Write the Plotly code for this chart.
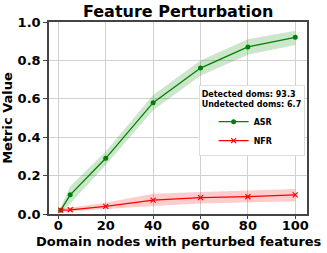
import plotly.graph_objects as go

x_vals = [1, 5, 20, 40, 60, 80, 100]
asr_mean = [0.02, 0.10, 0.29, 0.58, 0.76, 0.87, 0.92]
asr_upper = [0.035, 0.145, 0.325, 0.62, 0.80, 0.91, 0.955]
asr_lower = [0.005, 0.055, 0.255, 0.54, 0.72, 0.83, 0.88]
nfr_mean = [0.02, 0.022, 0.04, 0.072, 0.085, 0.09, 0.10]
nfr_upper = [0.03, 0.032, 0.058, 0.105, 0.115, 0.122, 0.13]
nfr_lower = [0.01, 0.012, 0.024, 0.042, 0.055, 0.06, 0.066]
x_ticks = [0, 20, 40, 60, 80, 100]
y_ticks = [0.0, 0.2, 0.4, 0.6, 0.8, 1.0]

FONT = "DejaVu Sans"
fig = go.Figure()

def band(upper, lower, color):
    fig.add_trace(go.Scatter(x=x_vals + x_vals[::-1], y=upper + lower[::-1],
                             fill="toself", fillcolor=color, line=dict(width=0),
                             mode="lines", showlegend=False, hoverinfo="skip"))

band(asr_upper, asr_lower, "rgba(0,128,0,0.2)")
band(nfr_upper, nfr_lower, "rgba(255,0,0,0.2)")

fig.add_trace(go.Scatter(x=x_vals, y=asr_mean, mode="lines+markers", name="ASR",
                         line=dict(color="green", width=1.3),
                         marker=dict(color="green", size=5, symbol="circle")))
fig.add_trace(go.Scatter(x=x_vals, y=nfr_mean, mode="lines+markers", name="NFR",
                         line=dict(color="red", width=1.3),
                         marker=dict(color="red", size=5, symbol="x-thin",
                                     line=dict(color="red", width=1.2))))

fig.update_layout(
    width=327, height=253,
    margin=dict(l=49, r=20, t=22, b=39, autoexpand=False),
    paper_bgcolor="white", plot_bgcolor="white",
    title=dict(text="Feature Perturbation", x=0.545, xanchor="center", y=0.953, yanchor="middle",
               font=dict(family=FONT, size=16, color="black", weight="bold")),
    font=dict(family=FONT, color="black"),
    legend=dict(x=0.58, y=0.67, xanchor="left", yanchor="top",
                bgcolor="white", bordercolor="#dddddd", borderwidth=1,
                title=dict(text="Detected doms: 93.3<br>Undetected doms: 6.7",
                           font=dict(family=FONT, size=8, weight="bold", color="black")),
                font=dict(family=FONT, size=8, weight="bold", color="black"),
                indentation=14, tracegroupgap=0, itemwidth=30),
    annotations=[dict(text="Domain nodes with perturbed features", xref="paper", yref="paper",
                      x=0.502, y=-0.142, xanchor="center", yanchor="middle", showarrow=False,
                      font=dict(family=FONT, size=13, weight="bold", color="black"))],
)

fig.update_xaxes(range=[-3.95, 104.95], tickvals=x_ticks, ticktext=[str(t) for t in x_ticks],
                 automargin=False,
                 showgrid=True, gridcolor="#d0d0d0", gridwidth=1,
                 showline=True, linecolor="#444444", linewidth=1.5, mirror=True,
                 ticks="outside", ticklen=3, tickcolor="#444444", zeroline=False,
                 ticklabelstandoff=-4,
                 tickfont=dict(family=FONT, size=13, weight="bold"))
fig.update_yaxes(range=[0, 1], tickvals=y_ticks, ticktext=[f"{t:.1f}" for t in y_ticks],
                 automargin=False,
                 showgrid=True, gridcolor="#d0d0d0", gridwidth=1,
                 showline=True, linecolor="#444444", linewidth=1.5, mirror=True,
                 ticks="outside", ticklen=4, tickcolor="#444444", zeroline=False,
                 tickfont=dict(family=FONT, size=13, weight="bold"),
                 title=dict(text="Metric Value", standoff=4,
                            font=dict(family=FONT, size=13, weight="bold")))

fig.write_html("out.html", config={"displayModeBar": False},
               post_script="document.body.style.margin='0px';")
